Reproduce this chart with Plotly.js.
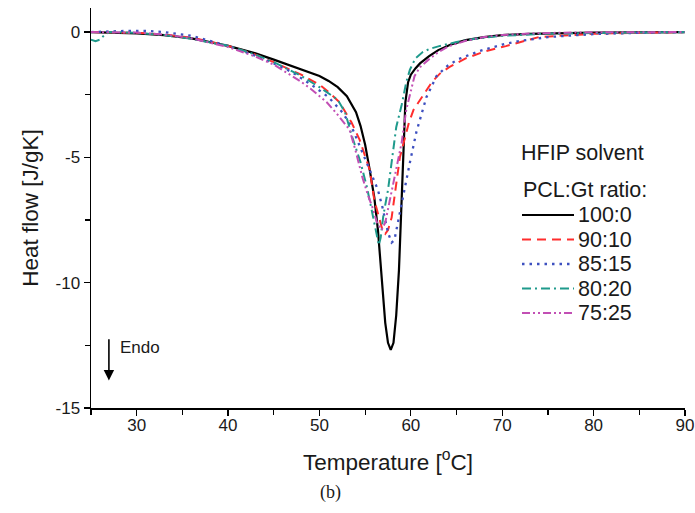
<!DOCTYPE html>
<html>
<head>
<meta charset="utf-8">
<script src="https://cdn.plot.ly/plotly-3.0.1.min.js"></script>
<style>html,body{margin:0;padding:0;background:#fff;}#chart{width:695px;height:513px;}</style>
</head>
<body>
<div id="chart"></div>
<script>
// ---- data ----
const seriesNames = ["100:0", "90:10", "85:15", "80:20", "75:25"];

const t100 = [25,27,30,33,36,40,43,45,47,49,50,51,52,53,54,54.5,55,55.5,56,56.4,56.8,57.2,57.5,57.8,58.1,58.4,58.7,59.0,59.2,59.4,59.7,60.0,60.5,61,62,63,64.5,66,68,70,73,76,80,85,90];
const v100 = [0,-0.02,-0.05,-0.12,-0.25,-0.55,-0.85,-1.1,-1.35,-1.6,-1.75,-1.95,-2.2,-2.56,-3.2,-3.75,-4.5,-5.5,-6.6,-7.9,-9.9,-11.6,-12.4,-12.68,-12.4,-11.3,-9.5,-6.5,-4.5,-2.8,-2.0,-1.7,-1.45,-1.25,-0.96,-0.72,-0.48,-0.32,-0.2,-0.12,-0.07,-0.04,-0.02,-0.01,0];

const t90 = [25,28,30,33,36,40,43,45,48,50,50.9,52.2,53.5,54.4,55.5,56.0,56.5,56.9,57.2,57.5,57.9,58.3,58.8,59.3,59.8,60.3,60.9,61.5,62.3,63.2,64.2,66,68.2,70.4,74,77.6,80,85,90];
const v90 = [0,0,-0.03,-0.1,-0.22,-0.55,-0.9,-1.2,-1.7,-2.1,-2.36,-2.8,-3.6,-4.3,-5.5,-6.7,-7.4,-7.9,-8.05,-7.9,-7.4,-6.3,-5.0,-4.3,-3.6,-3.1,-2.76,-2.4,-2.0,-1.65,-1.4,-1.05,-0.76,-0.56,-0.2,-0.12,-0.07,-0.03,0];

const t85 = [25,27,29,31,33,36,40,43,45,47,49.5,51,52.5,53.5,54.5,55.5,56.4,56.9,57.5,57.9,58.2,58.8,59.3,59.9,60.6,61.2,61.7,62.8,64,65.2,67.5,70,71.8,75,80,85,90];
const v85 = [0,0.03,0.05,0.05,0,-0.15,-0.55,-0.95,-1.25,-1.6,-2.2,-2.6,-3.2,-3.76,-4.6,-5.5,-6.3,-7.0,-8.0,-8.4,-8.3,-7.2,-6.2,-5.2,-4.0,-3.2,-2.6,-1.76,-1.35,-1.08,-0.76,-0.5,-0.36,-0.2,-0.08,-0.03,0];

const t80 = [25,25.5,26,26.5,27,28,30,33,36,40,43,45,47,48,50,51,52,52.8,53.6,54.5,55.2,55.6,56.0,56.3,56.5,56.7,57.0,57.5,58.0,58.4,59.0,59.5,59.9,60.5,61.3,62,63.1,65,67,70,75,80,90];
const v80 = [-0.3,-0.36,-0.3,-0.1,0,0,-0.03,-0.12,-0.27,-0.55,-0.9,-1.2,-1.55,-1.75,-2.2,-2.45,-2.7,-3.2,-4.2,-5.2,-6.2,-6.9,-7.6,-8.2,-8.5,-8.2,-7.3,-6.3,-4.9,-3.8,-2.9,-2.0,-1.5,-1.05,-0.8,-0.68,-0.56,-0.4,-0.27,-0.15,-0.06,-0.03,0];

const t75 = [25,28,30,33,36,40,43,45,47.9,49,50.8,52,53.3,54.0,54.7,55.3,55.8,56.3,56.8,57.2,57.6,58.0,58.5,59.0,59.5,60.0,60.4,61,62,63,64.2,66,68,70,73,76,80,90];
const v75 = [0,0,-0.02,-0.1,-0.25,-0.6,-0.98,-1.3,-1.96,-2.25,-2.8,-3.3,-3.9,-4.8,-5.8,-6.5,-7.0,-7.6,-7.9,-7.6,-6.9,-6.2,-5.3,-4.4,-3.1,-2.3,-1.76,-1.4,-1.08,-0.8,-0.56,-0.35,-0.2,-0.12,-0.06,-0.03,-0.01,0];

const xTickVals = [30,40,50,60,70,80,90];
const yTickVals = [-15,-10,-5,0];
const yTickText = ["-15","-10","-5","0"];
const legendHeading = "HFIP solvent";
const legendTitle = "PCL:Gt ratio:";

// ---- styles ----
const colors = ["#000000", "#ff2d2d", "#3d50c0", "#1f9a8c", "#c24fb4"];
const dashes = ["solid", "9px,6px", "2.5px,5px", "9px,4px,2px,4px", "8px,3px,2px,3px,2px,3px"];
const widths = [2.2, 2, 2.3, 2, 2];
const xs = [t100, t90, t85, t80, t75];
const ys = [v100, v90, v85, v80, v75];

const FONT = "Liberation Sans, Arial, sans-serif";
const TXT = "#1a1a1a";

const traces = seriesNames.map((n, i) => ({
  type: "scatter", mode: "lines", name: n,
  x: xs[i], y: ys[i],
  line: {color: colors[i], width: widths[i], dash: dashes[i]},
  showlegend: false
}));

// plot area in pixels (for the hand-drawn legend block)
const PL = 91, PR = 685, PT = 8, PB = 408;
const px2x = p => (p - PL) / (PR - PL);
const px2y = p => (PB - p) / (PB - PT);

const shapes = [];
const annotations = [
  {xref: "x", yref: "y", x: 26.96, y: -13.9, axref: "x", ayref: "y", ax: 26.96, ay: -12.2,
   text: "", showarrow: true, arrowhead: 2, arrowsize: 1.3, arrowwidth: 1.6, arrowcolor: "#000"},
  {xref: "x", yref: "y", x: 27.95, y: -12.6, text: "Endo", showarrow: false, xanchor: "left", yanchor: "middle",
   font: {family: FONT, size: 17, color: TXT}},
  {xref: "paper", yref: "paper", x: px2x(519), y: px2y(153), text: legendHeading, showarrow: false,
   xanchor: "left", yanchor: "middle", font: {family: FONT, size: 21.5, color: TXT}},
  {xref: "paper", yref: "paper", x: px2x(521), y: px2y(190), text: legendTitle, showarrow: false,
   xanchor: "left", yanchor: "middle", font: {family: FONT, size: 21.5, color: TXT}},
  {xref: "paper", yref: "paper", x: px2x(330), y: px2y(492), text: "(b)", showarrow: false,
   xanchor: "center", yanchor: "middle", font: {family: "Liberation Serif, Times New Roman, serif", size: 18, color: TXT}}
];
seriesNames.forEach((n, i) => {
  const yy = 215 + i * 24.5;
  shapes.push({type: "line", xref: "paper", yref: "paper", x0: px2x(522), x1: px2x(574), y0: px2y(yy), y1: px2y(yy),
    line: {color: colors[i], width: widths[i], dash: dashes[i]}});
  annotations.push({xref: "paper", yref: "paper", x: px2x(576), y: px2y(yy), text: n, showarrow: false,
    xanchor: "left", yanchor: "middle", font: {family: FONT, size: 21.5, color: TXT}});
});

const layout = {
  width: 695, height: 513,
  margin: {l: PL, r: 695 - PR, t: PT, b: 513 - PB},
  paper_bgcolor: "#fff", plot_bgcolor: "#fff",
  font: {family: FONT, color: TXT, size: 17},
  showlegend: false,
  xaxis: {
    range: [25, 90.001], tickvals: xTickVals, ticks: "outside", ticklen: 6, tickwidth: 1.3,
    tickcolor: "#000", showline: true, linecolor: "#000", linewidth: 1.5,
    showgrid: false, zeroline: false, automargin: false, ticklabeloverflow: "allow",
    tickfont: {family: FONT, size: 17, color: TXT}, ticklabelstandoff: -5,
    minor: {dtick: 5, tick0: 25, ticks: "outside", ticklen: 5, tickcolor: "#000", tickwidth: 1.2, showgrid: false},
    title: {text: "Temperature [<sup>o</sup>C]", font: {family: FONT, size: 22.5, color: TXT}, standoff: 20}
  },
  yaxis: {
    range: [-15, 0.96], tickvals: yTickVals, ticktext: yTickText, ticks: "outside", ticklen: 6, tickwidth: 1.3,
    tickcolor: "#000", showline: true, linecolor: "#000", linewidth: 1.5,
    showgrid: false, zeroline: false, automargin: false,
    tickfont: {family: FONT, size: 17, color: TXT},
    minor: {dtick: 2.5, tick0: 0, ticks: "outside", ticklen: 5, tickcolor: "#000", tickwidth: 1.2, showgrid: false},
    title: {text: "Heat flow [J/gK]", font: {family: FONT, size: 22.5, color: TXT}, standoff: 10}
  },
  shapes: shapes,
  annotations: annotations
};

Plotly.newPlot("chart", traces, layout, {staticPlot: true, displayModeBar: false});
</script>
</body>
</html>
